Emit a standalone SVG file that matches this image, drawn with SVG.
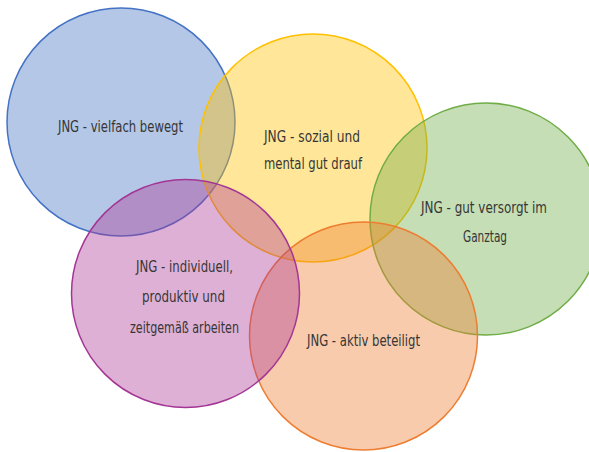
<svg xmlns="http://www.w3.org/2000/svg" width="589" height="452" viewBox="0 0 589 452">
<style>
  .c { stroke-width: 1.5; }
  .t { font-family: "DejaVu Sans Condensed", "Liberation Sans", sans-serif; font-size: 16.5px; fill: #363636; text-anchor: middle; }
</style>
<rect width="589" height="452" fill="#ffffff"/>
<g id="blue"><circle class="c" cx="121" cy="122" r="114" fill="#4472c4" fill-opacity="0.4" stroke="#4472c4"/></g>
<g id="yellow"><circle class="c" cx="313" cy="148" r="114" fill="#ffc000" fill-opacity="0.4" stroke="#ffc000"/></g>
<g id="green"><circle class="c" cx="486" cy="219" r="116" fill="#70ad47" fill-opacity="0.4" stroke="#70ad47"/></g>
<g id="orange"><circle class="c" cx="363.5" cy="336" r="114" fill="#ed7d31" fill-opacity="0.4" stroke="#ed7d31"/></g>
<g id="pink"><circle class="c" cx="185.5" cy="293.5" r="114" fill="#b03a96" fill-opacity="0.4" stroke="#a33694"/></g>
<g id="labels">
  <text class="t" x="120.5" y="132" textLength="125" lengthAdjust="spacingAndGlyphs">JNG - vielfach bewegt</text>
  <text class="t" x="312" y="142" textLength="96" lengthAdjust="spacingAndGlyphs">JNG - sozial und</text>
  <text class="t" x="313" y="169" textLength="98" lengthAdjust="spacingAndGlyphs">mental gut drauf</text>
  <text class="t" x="484" y="213" textLength="126" lengthAdjust="spacingAndGlyphs">JNG - gut versorgt im</text>
  <text class="t" x="485" y="242" textLength="44" lengthAdjust="spacingAndGlyphs">Ganztag</text>
  <text class="t" x="184.5" y="272" textLength="97" lengthAdjust="spacingAndGlyphs">JNG - individuell,</text>
  <text class="t" x="183.5" y="302" textLength="83" lengthAdjust="spacingAndGlyphs">produktiv und</text>
  <text class="t" x="184.5" y="333" textLength="109" lengthAdjust="spacingAndGlyphs">zeitgemäß arbeiten</text>
  <text class="t" x="363.5" y="346" textLength="113" lengthAdjust="spacingAndGlyphs">JNG - aktiv beteiligt</text>
</g>
</svg>
